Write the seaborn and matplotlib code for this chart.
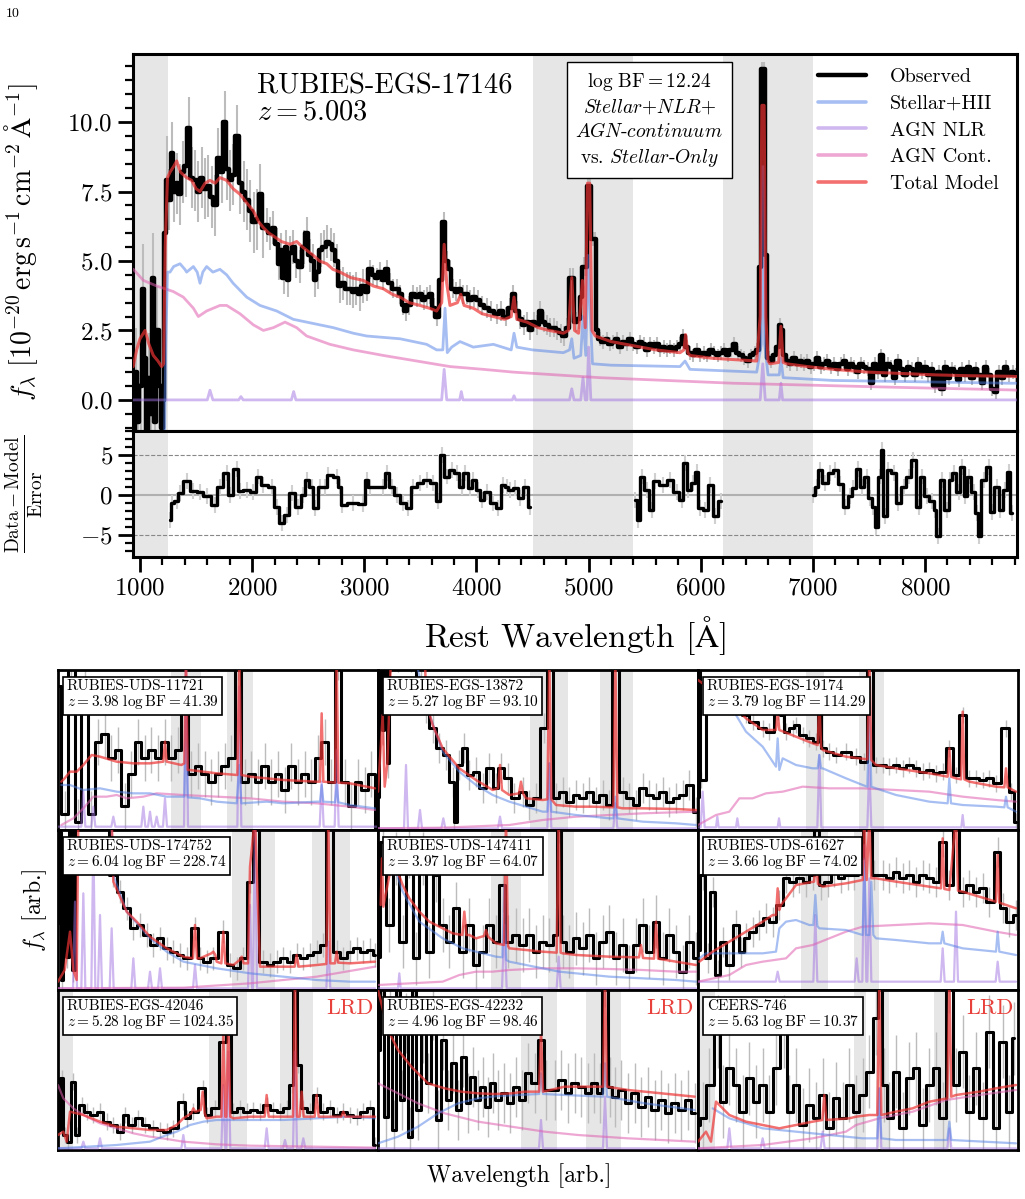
import numpy as np
import matplotlib
matplotlib.use('Agg')
import matplotlib.pyplot as plt
import seaborn as sns
from matplotlib.lines import Line2D
from matplotlib.ticker import MultipleLocator

# ---------------- main spectrum: RUBIES-EGS-17146 ----------------
main_obs = [
    (945, -1.2), (965, 1.0), (985, -0.8), (1005, 0.5), (1027, 4.0), (1045, 1.5), (1060, -1.2),
    (1080, 0.8), (1100, -0.5), (1116, 4.4), (1135, -0.8), (1155, 2.5), (1175, 0.5), (1195, -1.0),
    (1210, 0.0), (1223, 6.0), (1240, 7.9), (1262, 7.2), (1283, 8.9), (1305, 7.5), (1330, 7.8),
    (1355, 7.4), (1380, 8.2), (1410, 8.4), (1437, 9.8), (1460, 8.0), (1490, 7.9), (1520, 7.5),
    (1550, 8.0), (1580, 7.6), (1610, 7.7), (1640, 7.3), (1669, 7.0), (1699, 8.7), (1730, 8.2),
    (1758, 10.0), (1780, 8.3), (1803, 7.9), (1830, 8.1), (1868, 9.5), (1895, 7.8), (1925, 7.5),
    (1955, 7.2), (1985, 6.8), (2015, 6.4), (2045, 6.5), (2070, 7.4), (2100, 6.2), (2130, 6.3),
    (2160, 6.0), (2190, 6.2), (2219, 5.6), (2240, 4.9), (2260, 5.4), (2280, 4.4), (2300, 5.5),
    (2320, 4.3), (2340, 5.3), (2367, 5.5), (2395, 5.0), (2427, 4.8), (2460, 5.5), (2486, 6.0),
    (2515, 5.2), (2540, 5.0), (2560, 4.3), (2585, 4.6), (2610, 5.4), (2640, 5.5), (2670, 5.7),
    (2700, 5.6), (2730, 5.4), (2754, 5.0), (2780, 4.1), (2810, 4.2), (2843, 4.0), (2873, 4.0),
    (2900, 3.9), (2930, 4.0), (2960, 3.8), (2990, 4.1), (3020, 3.9), (3050, 4.7), (3080, 4.5),
    (3110, 4.4), (3140, 4.6), (3170, 4.3), (3200, 4.7), (3230, 4.2), (3260, 4.0), (3290, 4.0),
    (3320, 3.8), (3345, 3.4), (3370, 3.2), (3400, 3.4), (3437, 3.8), (3470, 3.7), (3500, 3.8),
    (3530, 3.6), (3560, 3.7), (3590, 3.8), (3620, 3.3), (3645, 3.0), (3680, 4.3), (3710, 6.4),
    (3735, 5.0), (3760, 4.7), (3790, 4.0), (3820, 3.9), (3853, 4.0), (3880, 3.8), (3913, 3.8),
    (3945, 3.6), (3975, 3.7), (4010, 3.6), (4050, 3.4), (4090, 3.3), (4130, 3.2), (4180, 3.1),
    (4220, 3.2), (4260, 3.0), (4300, 3.3), (4330, 3.8), (4360, 3.2), (4390, 2.9), (4420, 2.7),
    (4450, 2.8), (4480, 2.5), (4510, 2.8), (4540, 2.7), (4570, 3.2), (4600, 2.8), (4630, 2.7),
    (4660, 2.6), (4690, 2.6), (4720, 2.5), (4750, 2.4), (4780, 2.3), (4810, 2.6), (4835, 4.4),
    (4860, 4.4), (4885, 2.8), (4910, 2.9), (4935, 3.7), (4955, 4.8), (4975, 4.8), (4995, 7.7),
    (5015, 7.7), (5035, 5.8), (5055, 5.8), (5075, 2.5), (5100, 2.2), (5130, 2.1), (5160, 2.2),
    (5190, 2.0), (5220, 2.1), (5250, 2.2), (5280, 1.9), (5310, 2.1), (5340, 2.0), (5370, 2.2),
    (5400, 2.0), (5430, 1.9), (5460, 2.1), (5490, 2.0), (5520, 1.8), (5550, 2.0), (5580, 1.9),
    (5610, 2.0), (5640, 1.8), (5670, 1.9), (5700, 1.8), (5730, 1.9), (5760, 1.8), (5790, 1.9),
    (5815, 2.0), (5845, 2.3), (5875, 1.9), (5905, 1.7), (5935, 1.6), (5965, 1.8), (5995, 1.6),
    (6025, 1.7), (6060, 1.6), (6090, 1.8), (6120, 1.7), (6150, 1.6), (6180, 1.7), (6210, 1.8),
    (6240, 1.6), (6270, 1.8), (6300, 2.0), (6330, 1.7), (6360, 1.6), (6390, 1.5), (6420, 1.4),
    (6450, 1.6), (6480, 1.7), (6505, 1.8), (6525, 4.8), (6545, 11.9), (6565, 11.9), (6585, 5.2),
    (6605, 1.5), (6630, 1.4), (6660, 1.6), (6690, 1.9), (6705, 2.7), (6725, 2.5), (6745, 1.6),
    (6770, 1.4), (6800, 1.3), (6830, 1.5), (6860, 1.3), (6890, 1.4), (6920, 1.3), (6950, 1.4),
    (6980, 1.2), (7010, 1.3), (7040, 1.5), (7070, 1.2), (7100, 1.3), (7130, 1.4), (7160, 1.2),
    (7190, 1.3), (7220, 1.1), (7250, 1.3), (7280, 1.4), (7310, 1.1), (7340, 1.3), (7370, 1.2),
    (7400, 1.0), (7430, 1.3), (7460, 1.2), (7490, 1.1), (7520, 0.6), (7550, 1.3), (7580, 1.0),
    (7610, 1.6), (7640, 0.9), (7670, 1.3), (7700, 1.2), (7730, 0.8), (7760, 1.4), (7790, 1.1),
    (7820, 0.9), (7850, 1.2), (7880, 1.1), (7910, 0.9), (7940, 1.3), (7970, 1.0), (8000, 1.2),
    (8030, 0.9), (8060, 1.1), (8090, 0.5), (8120, 1.0), (8150, 0.4), (8180, 1.2), (8210, 0.8),
    (8240, 1.1), (8270, 1.0), (8300, 0.7), (8330, 1.1), (8360, 0.9), (8390, 1.2), (8420, 0.8),
    (8450, 1.1), (8480, 0.9), (8510, 0.6), (8540, 1.2), (8570, 0.9), (8600, 0.4), (8630, 0.3),
    (8660, 1.0), (8690, 0.8), (8720, 1.2), (8750, 0.9), (8780, 1.0), (8810, 0.9),
]
# error level per wavelength interval
err_edges = [940, 1250, 2100, 3000, 5000, 8820]
err_vals = [1.6, 1.1, 0.6, 0.35, 0.25]

main_total = [
    (940, 1.2), (970, 1.8), (1000, 2.2), (1045, 2.5), (1080, 2.0), (1119, 1.6), (1160, 1.4),
    (1193, 1.2), (1210, 1.3), (1225, 5.5), (1245, 8.0), (1268, 8.2), (1300, 8.4), (1327, 8.6),
    (1360, 8.2), (1416, 8.0), (1460, 7.9), (1500, 7.6), (1535, 7.5), (1580, 7.8), (1624, 7.9),
    (1670, 7.8), (1713, 8.0), (1773, 7.9), (1830, 7.6), (1892, 7.4), (1950, 7.1), (2011, 6.8),
    (2060, 6.4), (2100, 6.2), (2150, 6.0), (2189, 5.9), (2260, 5.7), (2338, 5.6), (2397, 5.7),
    (2450, 5.5), (2546, 5.2), (2600, 5.0), (2665, 4.9), (2720, 4.7), (2783, 4.6), (2880, 4.4),
    (2992, 4.3), (3080, 4.1), (3170, 4.0), (3250, 3.8), (3319, 3.7), (3400, 3.5), (3497, 3.4),
    (3580, 3.3), (3645, 3.2), (3690, 3.5), (3712, 5.6), (3735, 4.2), (3764, 3.4), (3830, 3.5),
    (3860, 3.8), (3890, 3.4), (3972, 3.3), (4050, 3.1), (4151, 3.0), (4250, 2.9), (4310, 3.0),
    (4335, 3.7), (4360, 2.9), (4450, 2.8), (4550, 2.6), (4650, 2.5), (4775, 2.4), (4820, 2.5),
    (4850, 4.4), (4875, 2.5), (4910, 2.4), (4945, 4.3), (4970, 2.6), (4990, 7.8), (5010, 7.8),
    (5030, 2.5), (5060, 2.3), (5200, 2.1), (5400, 1.95), (5600, 1.8), (5815, 1.7), (5850, 1.8),
    (5865, 2.35), (5885, 1.7), (5904, 1.6), (6100, 1.5), (6300, 1.45), (6499, 1.4), (6530, 3.0),
    (6545, 10.6), (6565, 10.6), (6580, 3.0), (6600, 1.4), (6618, 1.3), (6695, 1.35), (6715, 2.65),
    (6735, 1.35), (6766, 1.3), (6950, 1.2), (7182, 1.1), (7500, 1.0), (7800, 0.95), (8100, 0.9),
    (8400, 0.87), (8758, 0.85), (8820, 0.84),
]
main_stellar = [
    (1218, -1.5), (1230, 2.0), (1245, 4.6), (1268, 4.6), (1300, 4.8), (1357, 4.9), (1400, 4.7),
    (1416, 4.6), (1476, 4.8), (1510, 4.6), (1535, 4.2), (1560, 4.6), (1594, 4.8), (1650, 4.6),
    (1713, 4.7), (1773, 4.5), (1830, 4.2), (1951, 3.7), (2070, 3.4), (2219, 3.2), (2367, 2.9),
    (2486, 2.8), (2605, 2.7), (2724, 2.6), (2902, 2.4), (3021, 2.3), (3319, 2.2), (3556, 2.0),
    (3645, 1.8), (3700, 1.8), (3720, 3.3), (3740, 1.7), (3779, 1.9), (3853, 2.1), (3972, 1.9),
    (4151, 2.0), (4310, 1.8), (4335, 2.4), (4360, 1.9), (4500, 1.8), (4775, 1.7), (4830, 1.8),
    (4850, 2.2), (4870, 1.5), (4930, 1.6), (4950, 3.0), (4975, 1.6), (4995, 5.2), (5015, 3.0),
    (5035, 1.3), (5200, 1.25), (5815, 1.2), (5860, 1.4), (5904, 1.1), (6200, 1.05), (6499, 1.0),
    (6540, 2.0), (6555, 8.4), (6570, 2.0), (6600, 0.9), (6700, 0.9), (6715, 1.5), (6735, 0.8),
    (7182, 0.7), (8000, 0.65), (8758, 0.6), (8820, 0.6),
]
main_agn_cont = [
    (941, 4.7), (1030, 4.3), (1149, 4.1), (1297, 3.9), (1386, 3.7), (1476, 3.3), (1520, 3.0),
    (1594, 3.2), (1713, 3.4), (1773, 3.4), (1892, 3.1), (2011, 2.7), (2100, 2.5), (2189, 2.6),
    (2293, 2.8), (2397, 2.6), (2486, 2.3), (2694, 2.0), (2902, 1.8), (3170, 1.6), (3467, 1.4),
    (3764, 1.2), (4062, 1.1), (4329, 1.0), (5102, 0.8), (6290, 0.6), (7780, 0.45), (8758, 0.36),
    (8820, 0.35),
]
main_agn_nlr = [
    (940, 0.0), (1600, 0.0), (1624, 0.35), (1650, 0.0), (1880, 0.0), (1900, 0.12), (1920, 0.0),
    (2350, 0.0), (2370, 0.3), (2390, 0.0), (3690, 0.0), (3712, 1.1), (3735, 0.0), (3850, 0.0),
    (3865, 0.3), (3880, 0.0), (4320, 0.0), (4335, 0.15), (4350, 0.0), (4830, 0.0), (4850, 0.4),
    (4870, 0.0), (4930, 0.0), (4950, 0.8), (4970, 0.0), (4985, 0.0), (5000, 1.9), (5020, 0.0),
    (6530, 0.0), (6553, 1.3), (6575, 0.0), (6700, 0.0), (6715, 0.6), (6730, 0.0), (8820, 0.0),
]
main_shade = [(938, 1250), (4500, 5400), (6200, 7000)]

# residuals (Data - Model) / Error, three fitted segments
res_seg1 = [
    (1268, -3.1), (1282, -1.0), (1327, -0.8), (1357, 0.2), (1416, 1.7), (1476, 0.5), (1535, 0.3),
    (1594, -0.2), (1669, -1.3), (1713, 1.0), (1773, 2.7), (1803, 0.0), (1862, 3.3), (1892, 0.5),
    (1951, 0.6), (2011, 0.4), (2055, 2.3), (2100, 1.2), (2174, 1.0), (2219, -1.5), (2263, -3.5),
    (2308, -2.5), (2352, 0.2), (2412, -1.5), (2457, 0.0), (2486, 1.9), (2531, 1.0), (2561, -1.7),
    (2605, 1.0), (2650, 1.0), (2679, 2.5), (2754, 2.3), (2783, 1.0), (2798, -1.3), (2902, -1.0),
    (2992, -1.2), (3021, 1.9), (3051, 1.0), (3170, 1.0), (3200, 2.7), (3244, 1.0), (3289, 0.0),
    (3348, -1.0), (3393, -1.7), (3437, 1.0), (3497, 1.5), (3556, 1.9), (3616, 1.5), (3660, -0.8),
    (3690, 5.0), (3735, 2.3), (3779, 3.1), (3824, 2.7), (3868, 1.0), (3898, 2.7), (3943, 0.8),
    (3972, 1.9), (4017, 0.6), (4047, -0.6), (4091, 0.4), (4151, -1.0), (4195, -1.7), (4240, 1.2),
    (4270, 1.0), (4300, 0.6), (4344, 0.8), (4389, -0.4), (4433, 1.0), (4478, -1.5),
]
res_seg2 = [
    (5414, -0.6), (5444, -3.1), (5473, 2.3), (5518, 0.6), (5563, -1.9), (5593, 1.7), (5667, 1.2),
    (5726, 1.9), (5786, 0.4), (5830, -0.6), (5860, 4.0), (5890, 0.6), (5934, 1.5), (5964, 2.9),
    (5994, -1.7), (6039, -1.9), (6083, 1.2), (6128, -2.7), (6178, -0.8),
]
res_seg3 = [
    (7004, 0.0), (7034, 1.0), (7063, 3.1), (7108, 1.5), (7153, 2.7), (7198, 3.1), (7242, 1.4),
    (7287, -1.5), (7332, -0.2), (7361, 0.8), (7406, 3.3), (7436, 1.0), (7480, 2.3), (7510, -0.4),
    (7540, -1.5), (7564, -4.0), (7600, 2.3), (7615, 5.6), (7644, -2.7), (7674, 3.1), (7719, 2.7),
    (7763, -1.0), (7808, 1.0), (7853, 2.3), (7897, 4.4), (7942, -1.5), (7972, 2.3), (8016, -0.2),
    (8061, -0.8), (8091, -1.9), (8112, -5.2), (8150, 1.9), (8195, -1.9), (8225, 1.9), (8255, 2.7),
    (8299, 0.4), (8329, 3.5), (8359, -0.2), (8388, 2.3), (8433, 0.4), (8463, -2.3), (8483, -5.2),
    (8522, 1.9), (8567, 3.5), (8596, -2.1), (8641, 1.0), (8671, -1.9), (8715, 0.6), (8745, 2.9),
    (8775, -2.3),
]

# ---------------- 3x3 gallery (arbitrary units) ----------------
panel_ids = ['RUBIES-UDS-11721', 'RUBIES-EGS-13872', 'RUBIES-EGS-19174',
             'RUBIES-UDS-174752', 'RUBIES-UDS-147411', 'RUBIES-UDS-61627',
             'RUBIES-EGS-42046', 'RUBIES-EGS-42232', 'CEERS-746']
panel_z = ['3.98', '5.27', '3.79', '6.04', '3.97', '3.66', '5.28', '4.96', '5.63']
panel_bf = ['41.39', '93.10', '114.29', '228.74', '64.07', '74.02', '1024.35', '98.46', '10.37']
panel_lrd = [False, False, False, False, False, False, True, True, True]
panel_err = [70, 45, 25, 35, 80, 45, 25, 90, 110]

p1_obs = [(0, 432), (20, 48), (40, 520), (60, 24), (80, 456), (100, 48), (120, 264), (140, 288),
          (160, 216), (180, 240), (200, 72), (220, 168), (240, 264), (260, 216), (280, 240),
          (300, 216), (320, 264), (340, 216), (360, 240), (380, 408), (400, 168), (420, 192),
          (440, 168), (460, 144), (480, 168), (500, 192), (520, 216), (540, 520), (560, 144),
          (580, 168), (600, 144), (620, 192), (640, 144), (660, 168), (680, 120), (700, 192),
          (720, 144), (740, 168), (760, 144), (780, 216), (800, 264), (820, 144), (840, 520),
          (860, 144), (880, 72), (900, 144), (920, 120), (940, 168), (960, 0)]
p1_total = [(10, 145), (20, 155), (36, 175), (56, 175), (76, 195), (101, 225), (126, 220),
            (176, 205), (226, 200), (276, 200), (316, 205), (321, 265), (326, 205), (370, 195),
            (379, 200), (384, 520), (389, 180), (396, 180), (476, 170), (538, 165), (544, 520),
            (550, 165), (576, 160), (676, 150), (776, 145), (786, 145), (791, 350), (796, 145),
            (831, 142), (836, 520), (841, 142), (876, 140), (951, 125)]
p1_stellar = [(10, 135), (36, 135), (76, 120), (126, 125), (176, 115), (226, 110), (276, 110),
              (326, 100), (376, 100), (379, 100), (384, 345), (389, 98), (426, 95), (476, 85),
              (536, 80), (544, 195), (550, 80), (626, 85), (676, 80), (776, 85), (786, 85),
              (791, 135), (796, 85), (831, 83), (836, 135), (841, 83), (876, 75), (951, 65)]
p1_agn = [(10, 15), (46, 35), (76, 65), (106, 100), (146, 100), (176, 105), (206, 95), (256, 100),
          (296, 110), (376, 105), (476, 100), (576, 95), (676, 85), (776, 80), (876, 70), (951, 60)]
p1_nlr = [(0, 10), (70, 10), (76, 115), (82, 10), (100, 10), (106, 70), (112, 10), (160, 10),
          (166, 40), (172, 10), (250, 10), (256, 70), (262, 10), (270, 10), (276, 55), (282, 10),
          (290, 10), (296, 40), (302, 10), (315, 10), (321, 95), (327, 10), (378, 10), (384, 520),
          (390, 10), (538, 10), (544, 430), (550, 10), (785, 10), (791, 145), (797, 10), (830, 10),
          (836, 240), (842, 10), (957, 10)]
p1_shade = [(338, 428), (506, 586)]

p2_obs = [(0, 100), (8, 480), (14, 300), (22, 520), (30, 200), (38, 520), (60, 520), (100, 520),
          (130, 450), (144, 365), (164, 305), (184, 245), (204, 225), (224, 145), (229, 25),
          (244, 195), (259, 245), (274, 165), (294, 175), (314, 125), (334, 185), (354, 125),
          (369, 185), (389, 155), (409, 95), (434, 115), (454, 75), (474, 95), (499, 305),
          (514, 520), (534, 95), (554, 115), (574, 85), (594, 105), (614, 95), (634, 115),
          (654, 85), (674, 105), (694, 75), (712, 520), (734, 115), (754, 95), (774, 75),
          (794, 125), (814, 105), (834, 95), (854, 115), (874, 85), (894, 95), (914, 105),
          (934, 135), (954, 55)]
p2_total = [(0, 115), (14, 345), (20, 130), (28, 200), (39, 520), (60, 560), (140, 560), (144, 385),
            (164, 315), (194, 245), (244, 185), (294, 150), (344, 120), (360, 125), (366, 195),
            (372, 120), (394, 105), (423, 110), (429, 145), (435, 110), (444, 95), (494, 90),
            (508, 92), (514, 520), (520, 92), (534, 75), (594, 70), (644, 70), (706, 68),
            (712, 520), (718, 68), (734, 65), (794, 65), (894, 63), (954, 60)]
p2_stellar = [(100, 560), (120, 480), (144, 375), (194, 235), (244, 175), (294, 135), (344, 105),
              (394, 85), (444, 70), (494, 55), (508, 55), (514, 200), (520, 55), (594, 45),
              (694, 35), (706, 35), (712, 100), (718, 35), (794, 25), (894, 20), (954, 15)]
p2_agn = [(0, 5), (194, 7), (394, 15), (494, 30), (594, 40), (694, 45), (794, 50), (954, 55)]
p2_nlr = [(0, 5), (78, 5), (84, 195), (90, 5), (120, 5), (126, 60), (132, 5), (190, 5), (196, 35),
          (202, 5), (360, 5), (366, 40), (372, 5), (508, 5), (514, 200), (520, 5), (706, 5),
          (712, 80), (718, 5), (954, 5)]
p2_shade = [(456, 569), (666, 766)]

p3_obs = [(0, 100), (4, 520), (10, 150), (40, 420), (80, 400), (120, 380), (144, 345), (164, 325),
          (194, 305), (214, 295), (239, 355), (254, 345), (264, 295), (284, 305), (294, 315),
          (314, 285), (334, 275), (354, 265), (364, 395), (374, 245), (394, 235), (414, 225),
          (444, 235), (474, 220), (499, 205), (514, 520), (534, 195), (554, 195), (574, 190),
          (594, 195), (614, 185), (634, 195), (654, 185), (674, 175), (694, 180), (714, 170),
          (734, 175), (754, 245), (774, 165), (794, 345), (814, 155), (834, 155), (854, 150),
          (874, 155), (894, 140), (924, 305), (939, 115), (954, 25)]
p3_total = [(0, 450), (40, 420), (100, 380), (144, 335), (194, 300), (234, 300), (239, 355),
            (244, 300), (294, 280), (344, 260), (359, 255), (364, 395), (369, 250), (374, 240),
            (444, 220), (508, 212), (514, 520), (520, 210), (534, 195), (594, 185), (694, 170),
            (749, 160), (754, 245), (759, 160), (774, 155), (789, 152), (794, 355), (799, 152),
            (814, 145), (894, 130), (919, 128), (924, 185), (929, 128), (954, 115)]
p3_stellar = [(114, 345), (144, 295), (194, 250), (234, 190), (239, 275), (244, 180), (254, 215),
              (294, 195), (344, 185), (359, 185), (364, 225), (369, 185), (374, 185), (444, 155),
              (494, 135), (508, 130), (514, 375), (520, 130), (534, 125), (594, 105), (694, 85),
              (749, 80), (754, 155), (759, 80), (794, 75), (894, 70), (919, 68), (924, 100),
              (929, 68), (954, 55)]
p3_agn = [(0, 15), (54, 45), (94, 55), (124, 95), (164, 95), (204, 110), (254, 115), (314, 130),
          (394, 125), (494, 125), (594, 120), (694, 115), (794, 100), (894, 90), (954, 85)]
p3_nlr = [(0, 8), (8, 8), (14, 115), (20, 8), (54, 8), (58, 40), (62, 8), (114, 8), (118, 35),
          (122, 8), (239, 8), (243, 35), (247, 8), (358, 8), (364, 225), (370, 8), (508, 8),
          (514, 195), (520, 8), (790, 8), (794, 45), (798, 8), (954, 8)]
p3_shade = [(324, 379), (484, 559)]

p4_obs = [(0, 200), (6, 475), (12, 30), (20, 380), (28, 100), (36, 520), (46, 60), (56, 520),
          (70, 520), (100, 520), (140, 520), (166, 345), (186, 295), (206, 245), (226, 185),
          (246, 195), (266, 165), (286, 135), (306, 155), (326, 125), (346, 115), (366, 105),
          (386, 95), (411, 185), (426, 95), (446, 85), (466, 95), (496, 175), (516, 75),
          (536, 65), (556, 95), (576, 325), (591, 520), (616, 85), (636, 75), (656, 85),
          (676, 95), (696, 85), (716, 105), (736, 95), (756, 105), (776, 115), (796, 135),
          (811, 520), (836, 115), (856, 95), (876, 115), (896, 125), (916, 115), (936, 120),
          (951, 105)]
p4_total = [(0, 25), (20, 60), (36, 175), (46, 60), (56, 30), (61, 520), (70, 560), (160, 560),
            (166, 325), (206, 235), (236, 205), (276, 160), (326, 125), (376, 100), (405, 95),
            (411, 195), (417, 95), (426, 95), (460, 110), (466, 115), (472, 105), (476, 85),
            (490, 80), (496, 175), (502, 80), (526, 75), (545, 90), (551, 100), (557, 80),
            (570, 80), (576, 370), (591, 520), (606, 70), (676, 70), (710, 70), (716, 105),
            (722, 70), (776, 75), (805, 78), (811, 520), (817, 80), (831, 80), (836, 115),
            (841, 82), (876, 80), (951, 85)]
p4_stellar = [(160, 520), (166, 345), (206, 235), (276, 155), (326, 115), (376, 85), (426, 75),
              (476, 65), (576, 50), (676, 40), (776, 30), (876, 25), (951, 25)]
p4_agn = [(0, 5), (376, 7), (576, 20), (776, 40), (951, 70)]
p4_nlr = [(0, 5), (45, 5), (51, 265), (57, 5), (70, 5), (76, 290), (82, 5), (100, 5), (106, 455),
          (112, 5), (120, 5), (126, 225), (132, 5), (155, 5), (161, 185), (167, 5), (220, 5),
          (226, 95), (232, 5), (270, 5), (276, 55), (282, 5), (300, 5), (306, 65), (312, 5),
          (405, 5), (411, 75), (417, 5), (570, 5), (576, 255), (582, 5), (585, 5), (591, 520),
          (597, 5), (805, 5), (811, 145), (817, 5), (951, 5)]
p4_shade = [(521, 651), (761, 876)]

p5_obs = [(0, 100), (14, 445), (34, 195), (54, 395), (74, 145), (94, 415), (114, 95), (134, 395),
          (154, 115), (174, 345), (194, 195), (214, 145), (234, 245), (254, 115), (274, 195),
          (294, 75), (314, 115), (334, 195), (354, 145), (374, 315), (389, 145), (414, 165),
          (434, 135), (454, 165), (474, 115), (494, 145), (514, 135), (534, 165), (542, 520),
          (554, 145), (574, 115), (594, 155), (614, 125), (634, 165), (654, 95), (674, 145),
          (694, 175), (714, 95), (734, 135), (754, 55), (774, 135), (794, 195), (814, 115),
          (834, 205), (854, 95), (874, 165), (894, 115), (914, 55), (934, 145), (954, 95)]
p5_total = [(8, 255), (12, 395), (16, 250), (44, 395), (74, 315), (94, 275), (124, 235),
            (154, 205), (194, 185), (224, 170), (253, 165), (259, 235), (265, 165), (274, 165),
            (294, 155), (318, 162), (324, 180), (330, 160), (354, 140), (378, 135), (384, 520),
            (390, 132), (394, 125), (444, 120), (494, 115), (536, 112), (542, 520), (548, 112),
            (554, 110), (594, 105), (694, 100), (783, 98), (789, 135), (795, 96), (828, 94),
            (834, 205), (840, 94), (894, 85), (954, 75)]
p5_stellar = [(44, 385), (74, 295), (124, 205), (194, 155), (254, 125), (294, 115), (354, 100),
              (373, 98), (379, 315), (385, 90), (394, 85), (444, 75), (494, 65), (544, 55),
              (594, 50), (694, 40), (794, 35), (894, 30), (954, 25)]
p5_agn = [(0, 15), (194, 25), (244, 45), (294, 55), (344, 55), (394, 60), (494, 65), (594, 65),
          (694, 63), (794, 60), (894, 55), (954, 55)]
p5_nlr = [(0, 5), (60, 5), (64, 50), (68, 5), (372, 5), (379, 195), (386, 5), (536, 5), (542, 100),
          (548, 5), (954, 5)]
p5_shade = [(339, 429), (509, 589)]

p6_obs = [(0, 120), (14, 345), (29, 95), (44, 295), (59, 45), (74, 145), (94, 75), (114, 195),
          (129, 115), (144, 155), (164, 175), (184, 195), (204, 215), (224, 205), (244, 255),
          (264, 335), (284, 325), (304, 335), (324, 325), (344, 345), (354, 520), (369, 315),
          (389, 325), (409, 355), (429, 335), (449, 345), (469, 345), (489, 395), (499, 520),
          (514, 520), (529, 345), (554, 345), (574, 335), (594, 355), (614, 335), (634, 345),
          (654, 325), (674, 345), (694, 335), (714, 325), (734, 445), (754, 315), (774, 520),
          (794, 295), (814, 315), (834, 295), (854, 305), (874, 265), (899, 415), (914, 245),
          (934, 205), (954, 225)]
p6_total = [(4, 85), (44, 115), (94, 145), (144, 175), (194, 205), (224, 225), (234, 225),
            (239, 305), (244, 240), (249, 255), (294, 315), (348, 325), (354, 385), (360, 318),
            (374, 310), (444, 320), (494, 330), (499, 520), (506, 330), (514, 520), (520, 335),
            (534, 335), (594, 325), (694, 310), (729, 305), (734, 455), (739, 303), (754, 300),
            (774, 520), (780, 298), (794, 295), (894, 265), (899, 405), (904, 262), (954, 245)]
p6_stellar = [(4, 95), (24, 110), (194, 110), (234, 115), (244, 185), (264, 205), (294, 210),
              (334, 195), (346, 195), (352, 285), (358, 192), (364, 185), (444, 180), (494, 165),
              (499, 395), (504, 165), (514, 165), (520, 325), (526, 165), (534, 155), (594, 150),
              (694, 140), (729, 140), (734, 175), (739, 140), (794, 125), (894, 115), (899, 175),
              (904, 115), (954, 105)]
p6_agn = [(0, 25), (94, 45), (144, 75), (194, 85), (264, 95), (294, 125), (344, 135), (394, 155),
          (444, 175), (494, 190), (594, 195), (694, 200), (794, 195), (894, 175), (954, 165)]
p6_nlr = [(0, 25), (233, 25), (239, 55), (245, 25), (346, 25), (352, 225), (358, 25), (470, 25),
          (476, 95), (482, 25), (493, 25), (499, 435), (505, 25), (508, 25), (514, 335), (520, 25),
          (728, 25), (734, 125), (740, 25), (768, 25), (774, 235), (780, 25), (893, 25), (899, 85),
          (905, 25), (954, 25)]
p6_shade = [(309, 389), (469, 542)]

p7_obs = [(0, 60), (11, 215), (21, 45), (31, 25), (46, 205), (56, 45), (71, 135), (86, 115),
          (106, 105), (126, 115), (146, 85), (166, 75), (186, 55), (201, 105), (221, 75),
          (241, 95), (261, 75), (286, 65), (306, 60), (326, 55), (346, 65), (374, 145), (386, 95),
          (406, 115), (434, 185), (446, 105), (471, 125), (496, 325), (511, 355), (526, 115),
          (546, 125), (566, 115), (586, 120), (606, 115), (626, 135), (646, 120), (666, 115),
          (686, 125), (701, 195), (711, 520), (721, 255), (736, 125), (756, 115), (776, 165),
          (796, 115), (816, 125), (836, 105), (856, 115), (876, 105), (896, 100), (916, 115),
          (936, 125), (951, 15)]
p7_total = [(0, 45), (16, 55), (26, 25), (36, 115), (76, 105), (126, 85), (176, 70), (226, 65),
            (276, 60), (326, 60), (356, 75), (376, 95), (400, 110), (406, 125), (412, 115),
            (428, 120), (434, 175), (440, 110), (446, 95), (476, 100), (490, 100), (496, 355),
            (502, 100), (505, 100), (511, 395), (517, 100), (526, 95), (576, 100), (620, 100),
            (626, 165), (632, 100), (676, 100), (705, 100), (711, 520), (717, 100), (725, 100),
            (731, 175), (737, 100), (746, 100), (770, 100), (776, 165), (782, 100), (796, 100),
            (850, 100), (856, 115), (862, 100), (876, 100), (951, 100)]
p7_stellar = [(0, 5), (176, 15), (276, 25), (326, 45), (356, 55), (396, 75), (436, 85), (476, 90),
              (576, 90), (676, 90), (776, 95), (876, 100), (951, 95)]
p7_agn = [(0, 195), (16, 155), (46, 125), (76, 105), (126, 80), (176, 65), (226, 50), (276, 40),
          (326, 33), (376, 25), (476, 17), (576, 13), (776, 10), (951, 7)]
p7_nlr = [(0, 5), (70, 5), (76, 25), (82, 5), (120, 5), (126, 35), (132, 5), (370, 5), (376, 45),
          (382, 5), (490, 5), (496, 195), (502, 5), (505, 5), (511, 295), (517, 5), (620, 5),
          (626, 65), (632, 5), (675, 5), (681, 30), (687, 5), (705, 5), (711, 295), (717, 5),
          (730, 5), (736, 35), (742, 5), (951, 5)]
p7_shade = [(0, 46), (454, 566), (666, 766)]

p8_obs = [(0, 300), (12, 520), (24, 100), (36, 450), (48, 60), (60, 520), (72, 150), (84, 380),
          (96, 40), (108, 480), (120, 120), (135, 350), (150, 200), (165, 420), (180, 90),
          (195, 330), (210, 150), (225, 260), (240, 120), (255, 280), (270, 140), (285, 220),
          (300, 150), (315, 190), (330, 130), (345, 200), (360, 150), (378, 170), (396, 140),
          (414, 190), (432, 150), (450, 230), (470, 200), (489, 330), (505, 180), (530, 180),
          (550, 210), (570, 170), (590, 200), (610, 190), (630, 170), (648, 200), (665, 170),
          (681, 520), (697, 190), (710, 160), (730, 180), (750, 140), (770, 170), (790, 130),
          (810, 160), (830, 120), (850, 150), (870, 110), (890, 140), (910, 120), (930, 150),
          (950, 110)]
p8_total = [(0, 480), (30, 360), (60, 300), (100, 250), (150, 200), (200, 185), (250, 175),
            (300, 170), (350, 168), (400, 170), (440, 175), (483, 175), (489, 360), (495, 175),
            (560, 190), (675, 190), (681, 520), (687, 190), (750, 180), (850, 170), (950, 160)]
p8_stellar = [(0, 20), (60, 40), (120, 70), (180, 110), (240, 140), (300, 155), (360, 162),
              (420, 165), (483, 168), (489, 230), (495, 168), (560, 165), (675, 160), (681, 260),
              (687, 160), (800, 140), (950, 120)]
p8_agn = [(0, 200), (60, 170), (120, 140), (200, 110), (300, 85), (400, 70), (500, 55), (600, 45),
          (750, 35), (950, 25)]
p8_nlr = [(0, 5), (483, 5), (489, 90), (495, 5), (675, 5), (681, 160), (687, 5), (950, 5)]
p8_shade = [(429, 537), (624, 729)]

p9_obs = [(0, 75), (14, 95), (34, 195), (60, 355), (74, 145), (94, 245), (114, 195), (134, 115),
          (154, 215), (174, 145), (194, 195), (214, 115), (234, 245), (259, 355), (274, 115),
          (294, 195), (314, 75), (334, 135), (354, 95), (374, 165), (394, 65), (414, 155),
          (434, 95), (454, 195), (474, 115), (494, 165), (514, 235), (534, 395), (544, 520),
          (559, 195), (574, 95), (594, 235), (614, 65), (634, 215), (654, 245), (674, 75),
          (694, 195), (714, 245), (734, 95), (754, 520), (774, 195), (794, 295), (814, 115),
          (834, 245), (854, 95), (874, 355), (894, 65), (914, 325), (934, 115), (949, 335)]
p9_total = [(0, 25), (24, 55), (39, 25), (54, 145), (94, 105), (144, 85), (194, 75), (244, 65),
            (294, 75), (344, 85), (373, 90), (379, 165), (385, 90), (454, 95), (474, 100),
            (514, 105), (538, 105), (544, 520), (550, 105), (594, 115), (644, 125), (694, 145),
            (748, 155), (754, 520), (760, 160), (774, 165), (844, 175), (894, 185), (954, 195)]
p9_stellar = [(44, 125), (94, 95), (194, 65), (294, 55), (394, 45), (494, 35), (538, 35),
              (544, 185), (550, 35), (594, 30), (694, 30), (748, 30), (754, 85), (760, 30),
              (954, 20)]
p9_agn = [(0, 5), (194, 15), (344, 35), (444, 55), (474, 75), (544, 95), (644, 115), (744, 150),
          (844, 165), (954, 180)]
p9_nlr = [(0, 5), (88, 5), (94, 65), (100, 5), (188, 5), (194, 35), (200, 5), (368, 5), (374, 55),
          (380, 5), (538, 5), (544, 185), (550, 5), (748, 5), (754, 65), (760, 5), (954, 5)]
p9_shade = [(0, 50), (469, 504), (534, 574), (709, 759)]

panel_obs = [p1_obs, p2_obs, p3_obs, p4_obs, p5_obs, p6_obs, p7_obs, p8_obs, p9_obs]
panel_total = [p1_total, p2_total, p3_total, p4_total, p5_total, p6_total, p7_total, p8_total, p9_total]
panel_stellar = [p1_stellar, p2_stellar, p3_stellar, p4_stellar, p5_stellar, p6_stellar,
                 p7_stellar, p8_stellar, p9_stellar]
panel_agn = [p1_agn, p2_agn, p3_agn, p4_agn, p5_agn, p6_agn, p7_agn, p8_agn, p9_agn]
panel_nlr = [p1_nlr, p2_nlr, p3_nlr, p4_nlr, p5_nlr, p6_nlr, p7_nlr, p8_nlr, p9_nlr]
panel_shade = [p1_shade, p2_shade, p3_shade, p4_shade, p5_shade, p6_shade, p7_shade, p8_shade, p9_shade]

# ---------------- style ----------------
sns.set_style('ticks')
plt.rcParams.update({
    'font.family': 'serif',
    'font.serif': ['cmr10'],
    'mathtext.fontset': 'cm',
    'axes.unicode_minus': False,
    'axes.formatter.use_mathtext': True,
    'axes.edgecolor': 'black',
    'axes.labelcolor': 'black',
    'text.color': 'black',
    'xtick.color': 'black',
    'ytick.color': 'black',
})

C_STEL = '#4f7fe6'
C_NLR = '#a070e0'
C_AGN = '#e060b0'
C_TOT = '#ee3333'
C_ERR = '#bcbcbc'
C_SHADE = '#e6e6e6'


def xy(pairs):
    a = np.array(pairs, dtype=float)
    return a[:, 0], a[:, 1]


def draw(ax, pairs, color, lw, alpha=1.0, steps=False, z=3):
    x, y = xy(pairs)
    sns.lineplot(x=x, y=y, ax=ax, color=color, lw=lw, alpha=alpha, estimator=None, sort=False,
                 drawstyle='steps-mid' if steps else 'default', zorder=z, legend=False)


fig = plt.figure(figsize=(10.25, 11.99), dpi=100)

# ---------------- main panel ----------------
ax = fig.add_axes([0.1298, 0.6405, 0.8624, 0.3145])
axr = fig.add_axes([0.1298, 0.5354, 0.8624, 0.1051], sharex=ax)

for a in (ax, axr):
    for lo, hi in main_shade:
        a.axvspan(lo, hi, color=C_SHADE, lw=0, zorder=0)

w, f = xy(main_obs)
err = np.array(err_vals)[np.clip(np.searchsorted(err_edges, w) - 1, 0, len(err_vals) - 1)]
ax.errorbar(w, f, yerr=err, fmt='none', ecolor=C_ERR, elinewidth=1.5, zorder=1)
draw(ax, main_obs, 'black', 3.2, steps=True, z=2)
draw(ax, main_agn_nlr, C_NLR, 2.0, alpha=0.5)
draw(ax, main_agn_cont, C_AGN, 2.0, alpha=0.55)
draw(ax, main_stellar, C_STEL, 2.0, alpha=0.5)
draw(ax, main_total, C_TOT, 2.2, alpha=0.7)

ax.set_xlim(938, 8820)
ax.set_ylim(-1.12, 12.45)
ax.yaxis.set_major_locator(MultipleLocator(2.5))
ax.yaxis.set_minor_locator(MultipleLocator(0.5))
ax.tick_params(axis='x', which='both', bottom=False, labelbottom=False)
ax.tick_params(axis='y', which='major', direction='out', length=11, width=2, labelsize=18)
ax.tick_params(axis='y', which='minor', direction='out', length=6, width=1.6)
ax.set_ylabel(r'$f_\lambda\ [10^{-20}\,\mathrm{erg\,s^{-1}\,cm^{-2}\,\AA^{-1}}]$', fontsize=20)
ax.yaxis.set_label_coords(-0.105, 0.5)

ax.text(0.14, 0.95, 'RUBIES-EGS-17146\n$z=5.003$', transform=ax.transAxes, ha='left', va='top',
        fontsize=20.5, linespacing=1.0)
ax.text(0.584, 0.955,
        '$\\log\\,\\mathrm{BF}=12.24$\n$\\mathit{Stellar}$+$\\mathit{NLR}$+\n'
        '$\\mathit{AGN}$-$\\mathit{continuum}$\nvs. $\\mathit{Stellar}$-$\\mathit{Only}$',
        transform=ax.transAxes, ha='center', va='top', fontsize=14, linespacing=1.35,
        multialignment='center',
        bbox=dict(boxstyle='square,pad=0.45', fc='white', ec='black', lw=1.0))

handles = [Line2D([], [], color='black', lw=3.2),
           Line2D([], [], color=C_STEL, lw=2.6, alpha=0.5),
           Line2D([], [], color=C_NLR, lw=2.6, alpha=0.5),
           Line2D([], [], color=C_AGN, lw=2.6, alpha=0.55),
           Line2D([], [], color=C_TOT, lw=2.6, alpha=0.7)]
ax.legend(handles, ['Observed', 'Stellar+HII', 'AGN NLR', 'AGN Cont.', 'Total Model'],
          loc='upper right', bbox_to_anchor=(1.0, 1.01), frameon=False, fontsize=14.5,
          handlelength=2.4, labelspacing=0.42, handletextpad=1.2)

# residual panel
axr.axhline(0, color='#b0b0b0', lw=1.5, zorder=1)
for lvl in (-5, 5):
    axr.axhline(lvl, color='#888888', lw=0.8, ls='--', zorder=1)
for seg in (res_seg1, res_seg2, res_seg3):
    rw, rv = xy(seg)
    axr.errorbar(rw, rv, yerr=1.0, fmt='none', ecolor='#d0d0d0', elinewidth=1.5, zorder=1)
    draw(axr, seg, 'black', 2.4, steps=True, z=2)
axr.set_ylim(-7.8, 8.0)
axr.xaxis.set_major_locator(MultipleLocator(1000))
axr.xaxis.set_minor_locator(MultipleLocator(200))
axr.yaxis.set_major_locator(MultipleLocator(5))
axr.yaxis.set_minor_locator(MultipleLocator(1))
axr.tick_params(which='major', direction='out', length=11, width=2, labelsize=18)
axr.tick_params(which='minor', direction='out', length=6, width=1.6)
axr.set_ylabel(r'$\frac{\mathrm{Data}-\mathrm{Model}}{\mathrm{Error}}$', fontsize=20)
axr.yaxis.set_label_coords(-0.1, 0.5)
axr.set_xlabel(r'Rest Wavelength [$\mathrm{\AA}$]', fontsize=24)
axr.xaxis.set_label_coords(0.5, -0.45)

for a in (ax, axr):
    for s in a.spines.values():
        s.set_linewidth(2.2)
        s.set_visible(True)

# ---------------- 3x3 gallery ----------------
gx0, gy_top = 58 / 1025, 1 - 670 / 1199
gw, gh = 320 / 1025, 160 / 1199
for i in range(9):
    r, c = divmod(i, 3)
    pax = fig.add_axes([gx0 + c * gw, gy_top - (r + 1) * gh, gw, gh])
    for lo, hi in panel_shade[i]:
        pax.axvspan(lo, hi, color=C_SHADE, lw=0, zorder=0)
    ox, oy = xy(panel_obs[i])
    pax.errorbar(ox, oy, yerr=panel_err[i], fmt='none', ecolor=C_ERR, elinewidth=1.0, zorder=1)
    draw(pax, panel_obs[i], 'black', 2.2, steps=True, z=2)
    draw(pax, panel_nlr[i], C_NLR, 1.6, alpha=0.5)
    draw(pax, panel_agn[i], C_AGN, 1.6, alpha=0.55)
    draw(pax, panel_stellar[i], C_STEL, 1.6, alpha=0.5)
    draw(pax, panel_total[i], C_TOT, 1.8, alpha=0.7)
    pax.set_xlim(0, 960)
    pax.set_ylim(0, 480)
    pax.set_xticks([])
    pax.set_yticks([])
    pax.set_xlabel('')
    pax.set_ylabel('')
    for s in pax.spines.values():
        s.set_linewidth(2.0)
        s.set_visible(True)
    pax.text(0.027, 0.945, f'{panel_ids[i]}\n$z={panel_z[i]}\\ \\log\\mathrm{{BF}}={panel_bf[i]}$',
             transform=pax.transAxes, ha='left', va='top', fontsize=11, linespacing=1.05, zorder=10,
             bbox=dict(boxstyle='square,pad=0.25', fc='white', ec='black', lw=1.2))
    if panel_lrd[i]:
        pax.text(0.985, 0.95, 'LRD', transform=pax.transAxes, ha='right', va='top',
                 color='#e8403a', fontsize=16, zorder=10)

fig.text(0.034, 1 - 910 / 1199, r'$f_\lambda$ [arb.]', rotation=90, ha='center', va='center', fontsize=17)
fig.text(0.507, 1 - 1176 / 1199, 'Wavelength [arb.]', ha='center', va='center', fontsize=17)
fig.text(0.006, 1 - 14 / 1199, '10', ha='left', va='center', fontsize=10)

fig.savefig('out.png', dpi=100)
